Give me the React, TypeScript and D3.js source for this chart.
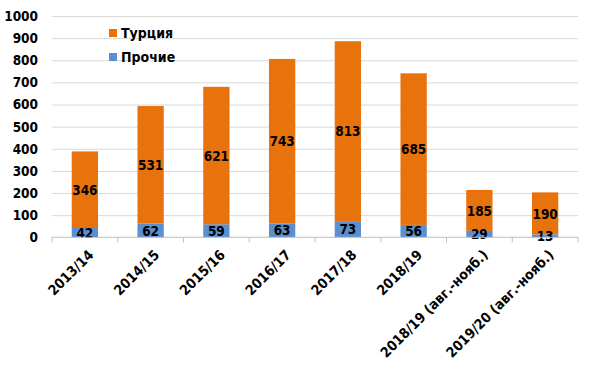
import { useEffect, useRef } from 'react';
import { axisBottom, axisLeft, scaleBand, scaleLinear, select, stack } from 'd3';

const categories = ['2013/14', '2014/15', '2015/16', '2016/17', '2017/18', '2018/19', '2018/19 (авг.-нояб.)', '2019/20 (авг.-нояб.)'];
const other = [42, 62, 59, 63, 73, 56, 29, 13];
const turkey = [346, 531, 621, 743, 813, 685, 185, 190];
const yTicks = [0, 100, 200, 300, 400, 500, 600, 700, 800, 900, 1000];

const seriesNames = ['Прочие', 'Турция'];
const colors: Record<string, string> = { 'Прочие': '#5B8FD0', 'Турция': '#E8720C' };

const W = 600;
const H = 392;
const margin = { top: 16, right: 22, left: 52 };
const baseY = 237.3;
const font = "'DejaVu Sans Condensed', 'DejaVu Sans', Verdana, sans-serif";

export default function App() {
  const ref = useRef<SVGSVGElement | null>(null);

  useEffect(() => {
    const el = ref.current;
    if (!el) return;
    const svg = select(el);
    svg.selectAll('*').remove();

    const x = scaleBand<string>().domain(categories).range([margin.left, W - margin.right]).paddingInner(0.6).paddingOuter(0.3);
    const y = scaleLinear().domain([0, 1000]).range([baseY, margin.top]);

    const rows = categories.map((c, i) => ({ cat: c, 'Прочие': other[i], 'Турция': turkey[i] }));
    const stacked = stack<any>().keys(seriesNames)(rows);

    // grid
    const grid = svg.append('g')
      .attr('transform', `translate(${margin.left},0)`)
      .call(axisLeft(y).tickValues(yTicks.slice(1)).tickSize(-(W - margin.right - margin.left)).tickFormat(() => ''));
    grid.select('.domain').remove();
    grid.selectAll('line').attr('stroke', '#D9D9D9');

    // y labels
    svg.append('g')
      .selectAll('text')
      .data(yTicks)
      .join('text')
      .attr('x', 38)
      .attr('y', (d) => y(d))
      .attr('dy', '0.36em')
      .attr('text-anchor', 'end')
      .attr('font-family', font)
      .attr('font-weight', 'bold')
      .attr('font-size', 13.5)
      .attr('fill', '#000')
      .text((d) => d);

    // bars
    svg.append('g')
      .selectAll('g')
      .data(stacked)
      .join('g')
      .attr('fill', (s) => colors[s.key])
      .selectAll('rect')
      .data((s) => s)
      .join('rect')
      .attr('x', (d) => x(d.data.cat) ?? 0)
      .attr('y', (d) => y(d[1]))
      .attr('width', x.bandwidth())
      .attr('height', (d) => y(d[0]) - y(d[1]));

    // value labels
    stacked.forEach((s) => {
      svg.append('g')
        .selectAll('text')
        .data(s)
        .join('text')
        .attr('x', (d) => (x(d.data.cat) ?? 0) + x.bandwidth() / 2)
        .attr('y', (d) => (y(d[0]) + y(d[1])) / 2)
        .attr('dy', '0.38em')
        .attr('text-anchor', 'middle')
        .attr('font-family', font)
        .attr('font-weight', 'bold')
        .attr('font-size', 13.5)
        .attr('fill', '#000')
        .text((d) => d.data[s.key]);
    });

    // x axis
    const step = x.step();
    const xAxis = svg.append('g')
      .attr('transform', `translate(0,${y(0)})`)
      .call(axisBottom(x).tickSize(0).tickFormat(() => ''));
    xAxis.select('.domain').attr('stroke', '#BFBFBF').attr('d', `M${margin.left},0H${W - margin.right}`);
    xAxis.append('g')
      .selectAll('line')
      .data([...categories.map((c) => (x(c) ?? 0) + x.bandwidth() / 2 - step / 2), W - margin.right])
      .join('line')
      .attr('x1', (d) => d)
      .attr('x2', (d) => d)
      .attr('y1', 0)
      .attr('y2', 5)
      .attr('stroke', '#BFBFBF');

    svg.append('g')
      .selectAll('text')
      .data(categories)
      .join('text')
      .attr('transform', (c) => `translate(${(x(c) ?? 0) + x.bandwidth() / 2 + 6},${y(0) + 15}) rotate(-45)`)
      .attr('text-anchor', 'end')
      .attr('dy', '0.35em')
      .attr('font-family', font)
      .attr('font-weight', 'bold')
      .attr('font-size', 14)
      .attr('fill', '#000')
      .text((c) => c);

    // legend
    const legend = svg.append('g').attr('font-family', font).attr('font-weight', 'bold').attr('font-size', 14);
    ['Турция', 'Прочие'].forEach((name, i) => {
      const ly = 33 + i * 24;
      legend.append('rect').attr('x', 109).attr('y', ly - 4).attr('width', 8).attr('height', 8).attr('fill', colors[name]);
      legend.append('text').attr('x', 121).attr('y', ly).attr('dy', '0.36em').attr('fill', '#000').text(name);
    });
  }, []);

  return <svg ref={ref} width={W} height={H} style={{ position: 'absolute', left: 0, top: 0, background: '#fff' }} />;
}
